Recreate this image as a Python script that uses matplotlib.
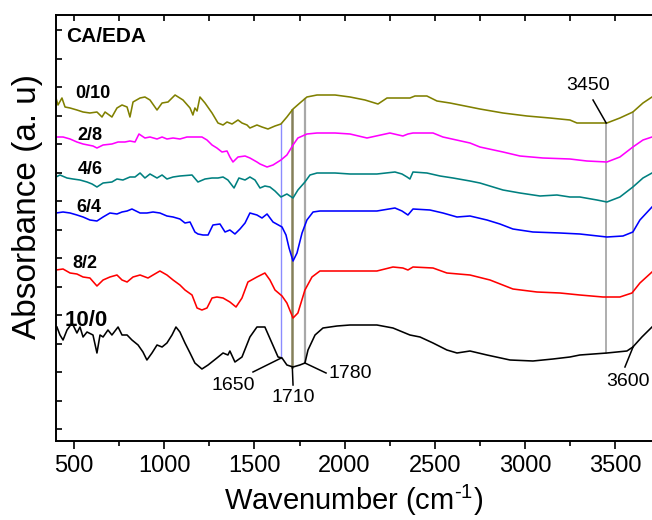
import numpy as np
import matplotlib

matplotlib.use("Agg")
import matplotlib.pyplot as plt
from matplotlib.ticker import MultipleLocator, FixedLocator

plt.rcParams["font.family"] = ["Liberation Sans", "DejaVu Sans"]
plt.rcParams["mathtext.fontset"] = "custom"
plt.rcParams["mathtext.rm"] = "Liberation Sans"

# FTIR spectra, stacked (arbitrary absorbance units)
wn_0_10 = [400, 411, 433, 450, 478, 516, 550, 588, 627, 655, 672, 710, 738, 766, 794, 810, 827,
           866, 893, 921, 960, 988, 1021, 1060, 1104, 1143, 1159, 1170, 1182, 1198, 1226, 1265,
           1298, 1326, 1348, 1376, 1409, 1431, 1459, 1475, 1514, 1542, 1575, 1614, 1647, 1680,
           1714, 1752, 1791, 1847, 1947, 2030, 2113, 2185, 2235, 2362, 2390, 2456, 2512, 2584,
           2695, 2750, 2878, 3011, 3138, 3249, 3288, 3377, 3454, 3526, 3598, 3654, 3704]
ab_0_10 = [3.43, 3.36, 3.43, 3.34, 3.33, 3.31, 3.29, 3.28, 3.29, 3.24, 3.29, 3.24, 3.33, 3.36,
           3.34, 3.24, 3.39, 3.43, 3.44, 3.41, 3.31, 3.38, 3.39, 3.46, 3.41, 3.33, 3.26, 3.33,
           3.30, 3.44, 3.38, 3.28, 3.18, 3.16, 3.19, 3.17, 3.21, 3.18, 3.16, 3.13, 3.16, 3.14,
           3.12, 3.15, 3.17, 3.24, 3.32, 3.38, 3.44, 3.46, 3.46, 3.44, 3.41, 3.37, 3.43, 3.43,
           3.45, 3.45, 3.40, 3.38, 3.34, 3.32, 3.28, 3.25, 3.23, 3.21, 3.18, 3.18, 3.18, 3.23,
           3.29, 3.38, 3.44]

wn_2_8 = [400, 439, 478, 516, 550, 605, 627, 661, 710, 744, 782, 810, 838, 860, 893, 921, 960,
          988, 1015, 1049, 1087, 1126, 1209, 1237, 1265, 1292, 1320, 1348, 1364, 1381, 1409,
          1448, 1475, 1514, 1531, 1570, 1603, 1647, 1680, 1714, 1741, 1791, 1847, 1947, 2030,
          2124, 2251, 2323, 2351, 2379, 2490, 2545, 2695, 2750, 2878, 2972, 3099, 3249, 3343,
          3454, 3526, 3598, 3654, 3704]
ab_2_8 = [3.04, 3.04, 3.02, 2.99, 2.97, 2.95, 2.93, 2.96, 2.97, 2.99, 2.99, 3.00, 2.99, 3.07,
          3.03, 3.04, 3.02, 3.04, 3.02, 3.03, 3.02, 3.04, 3.04, 3.01, 2.96, 2.93, 2.89, 2.90,
          2.84, 2.79, 2.84, 2.85, 2.83, 2.79, 2.77, 2.74, 2.76, 2.81, 2.86, 2.96, 3.03, 3.07,
          3.08, 3.08, 3.07, 3.03, 3.08, 3.05, 3.07, 3.08, 3.08, 3.04, 2.98, 2.94, 2.89, 2.85,
          2.83, 2.82, 2.80, 2.79, 2.84, 2.94, 3.01, 3.04]

wn_4_6 = [400, 422, 461, 494, 533, 572, 600, 627, 661, 710, 738, 771, 810, 838, 866, 893, 921,
          960, 988, 1015, 1049, 1087, 1154, 1187, 1226, 1265, 1298, 1326, 1353, 1387, 1414,
          1448, 1475, 1503, 1531, 1558, 1586, 1614, 1647, 1680, 1714, 1741, 1780, 1808, 1847,
          1947, 2030, 2179, 2279, 2318, 2346, 2362, 2379, 2456, 2529, 2601, 2695, 2750, 2878,
          2972, 3083, 3177, 3249, 3304, 3399, 3454, 3526, 3598, 3654, 3704]
ab_4_6 = [2.64, 2.66, 2.63, 2.62, 2.61, 2.59, 2.57, 2.54, 2.58, 2.59, 2.62, 2.61, 2.64, 2.64,
          2.68, 2.63, 2.67, 2.63, 2.66, 2.62, 2.64, 2.65, 2.66, 2.59, 2.62, 2.63, 2.63, 2.64,
          2.61, 2.53, 2.63, 2.61, 2.64, 2.61, 2.53, 2.55, 2.54, 2.50, 2.44, 2.47, 2.43, 2.51,
          2.59, 2.66, 2.68, 2.68, 2.67, 2.67, 2.69, 2.67, 2.64, 2.62, 2.69, 2.68, 2.65, 2.63,
          2.60, 2.58, 2.51, 2.48, 2.45, 2.46, 2.44, 2.44, 2.41, 2.39, 2.44, 2.54, 2.63, 2.68]

wn_6_4 = [400, 439, 478, 516, 550, 588, 627, 661, 699, 738, 766, 794, 821, 866, 904, 938, 976,
          1015, 1049, 1087, 1115, 1143, 1170, 1187, 1215, 1243, 1270, 1309, 1337, 1364, 1392,
          1420, 1448, 1475, 1514, 1542, 1570, 1603, 1653, 1675, 1692, 1714, 1736, 1764, 1791,
          1825, 1863, 1947, 2030, 2179, 2279, 2318, 2351, 2379, 2473, 2545, 2623, 2695, 2789,
          2861, 2933, 3044, 3194, 3304, 3454, 3543, 3598, 3637, 3704]
ab_6_4 = [2.28, 2.29, 2.28, 2.26, 2.24, 2.21, 2.20, 2.24, 2.28, 2.27, 2.29, 2.30, 2.32, 2.28,
          2.28, 2.29, 2.28, 2.25, 2.24, 2.22, 2.18, 2.19, 2.09, 2.07, 2.06, 2.06, 2.16, 2.17,
          2.09, 2.11, 2.07, 2.12, 2.18, 2.28, 2.26, 2.23, 2.27, 2.19, 2.14, 2.06, 1.93, 1.80,
          1.88, 2.08, 2.21, 2.29, 2.30, 2.30, 2.30, 2.30, 2.33, 2.30, 2.26, 2.32, 2.31, 2.28,
          2.24, 2.25, 2.21, 2.17, 2.12, 2.09, 2.08, 2.07, 2.04, 2.05, 2.09, 2.21, 2.34]

wn_8_2 = [400, 439, 478, 516, 550, 588, 627, 661, 699, 738, 766, 794, 827, 866, 910, 938, 976,
          1015, 1049, 1087, 1115, 1154, 1182, 1209, 1237, 1265, 1292, 1326, 1364, 1398, 1431,
          1464, 1514, 1558, 1586, 1614, 1653, 1680, 1714, 1741, 1780, 1819, 1863, 2030, 2179,
          2268, 2323, 2351, 2379, 2490, 2567, 2695, 2806, 2933, 3066, 3194, 3304, 3432, 3526,
          3593, 3637, 3704]
ab_8_2 = [1.71, 1.72, 1.68, 1.67, 1.64, 1.63, 1.55, 1.61, 1.64, 1.66, 1.61, 1.59, 1.64, 1.66,
          1.63, 1.66, 1.70, 1.66, 1.61, 1.56, 1.51, 1.46, 1.33, 1.31, 1.33, 1.43, 1.44, 1.43,
          1.39, 1.34, 1.43, 1.59, 1.64, 1.68, 1.61, 1.51, 1.45, 1.38, 1.23, 1.28, 1.51, 1.64,
          1.70, 1.70, 1.70, 1.74, 1.73, 1.71, 1.74, 1.73, 1.68, 1.66, 1.61, 1.52, 1.49, 1.48,
          1.46, 1.44, 1.44, 1.48, 1.58, 1.69]

wn_10_0 = [405, 422, 439, 461, 489, 516, 533, 550, 572, 605, 627, 644, 661, 688, 710, 744, 766,
           794, 821, 855, 882, 904, 932, 960, 988, 1015, 1043, 1065, 1087, 1115, 1143, 1170,
           1209, 1243, 1292, 1326, 1353, 1364, 1392, 1431, 1475, 1514, 1558, 1597, 1631, 1653,
           1680, 1714, 1752, 1780, 1797, 1836, 1880, 1958, 2030, 2179, 2268, 2362, 2418, 2490,
           2567, 2623, 2695, 2789, 2917, 3044, 3155, 3249, 3304, 3454, 3565, 3598, 3648, 3704]
ab_10_0 = [1.14, 1.06, 1.01, 1.11, 1.18, 1.08, 1.14, 1.04, 1.09, 1.06, 0.88, 1.06, 1.04, 1.11,
           1.06, 1.14, 1.06, 1.06, 1.01, 0.96, 0.89, 0.81, 0.88, 0.96, 0.94, 0.98, 1.06, 1.14,
           1.09, 0.98, 0.88, 0.78, 0.72, 0.76, 0.83, 0.88, 0.86, 0.90, 0.79, 0.84, 1.04, 1.14,
           1.14, 0.98, 0.84, 0.83, 0.76, 0.74, 0.76, 0.78, 0.91, 1.06, 1.13, 1.15, 1.16, 1.16,
           1.13, 1.06, 1.04, 0.98, 0.91, 0.88, 0.90, 0.86, 0.81, 0.80, 0.82, 0.84, 0.86, 0.88,
           0.90, 0.94, 1.04, 1.14]

ratios = ["0/10", "2/8", "4/6", "6/4", "8/2", "10/0"]
colors = ["#808000", "#ff00ff", "#008080", "#0000ff", "#ff0000", "#000000"]
spectra = [(wn_0_10, ab_0_10), (wn_2_8, ab_2_8), (wn_4_6, ab_4_6),
           (wn_6_4, ab_6_4), (wn_8_2, ab_8_2), (wn_10_0, ab_10_0)]

# label anchor (wavenumber, absorbance) for each ratio
label_wn = [605, 588, 588, 583, 561, 566]
label_ab = [3.48, 3.06, 2.71, 2.33, 1.78, 1.21]

band_wn = [1650, 1710, 1780, 3450, 3600]
band_colors = ["#8c8cff", "#85805a", "#a8a8a8", "#a8a8a8", "#a8a8a8"]
band_widths = [1.0, 1.8, 1.6, 1.3, 1.3]
# where each band label sits and where its leader starts
band_text_xy = [(1381, 0.56), (1714, 0.44), (2030, 0.68), (3349, 3.55), (3571, 0.59)]
band_leader_xy = [(1492, 0.69), (1714, 0.56), (1897, 0.68), (3377, 3.41), (3554, 0.74)]

fig = plt.figure(figsize=(6.52, 5.20), dpi=100)
ax = fig.add_axes([56 / 652, 79 / 520, 1 - 56 / 652, 426 / 520])

top_wn, top_ab = spectra[0]
bot_wn, bot_ab = spectra[-1]
for wn, col, lw in zip(band_wn, band_colors, band_widths):
    y_top = np.interp(wn, top_wn, top_ab)
    y_bot = np.interp(wn, bot_wn, bot_ab)
    ax.plot([wn, wn], [y_bot, y_top], color=col, lw=lw, zorder=1)

for (wn, ab), col in zip(spectra, colors):
    ax.plot(wn, ab, color=col, lw=1.15, zorder=2)

for name, x, y in zip(ratios, label_wn, label_ab):
    size = 16 if name == "10/0" else 13
    ax.text(x, y, name, fontsize=size, fontweight="bold", ha="center", va="center")

ax.text(455, 4.05, "CA/EDA", fontsize=15, fontweight="bold", ha="left", va="center")

for i, wn in enumerate(band_wn):
    curve_wn, curve_ab = spectra[0] if wn == 3450 else spectra[-1]
    y_curve = np.interp(wn, curve_wn, curve_ab)
    lx, ly = band_leader_xy[i]
    ax.plot([lx, wn], [ly, y_curve], color="black", lw=1.1, zorder=3)
    tx, ty = band_text_xy[i]
    ax.text(tx, ty, str(wn), fontsize=14, ha="center", va="center")

ax.set_xlim(400, 3704)
ax.set_ylim(0, 4.26)
ax.spines["right"].set_visible(False)
for side in ("left", "top", "bottom"):
    ax.spines[side].set_linewidth(1.4)

ax.xaxis.set_major_locator(MultipleLocator(500))
ax.xaxis.set_minor_locator(MultipleLocator(250))
ax.yaxis.set_major_locator(FixedLocator(np.arange(0.12, 4.26, 0.285)))
ax.set_yticklabels([])
ax.tick_params(axis="x", which="major", direction="out", length=6, width=1.2,
               labelsize=17, pad=4, top=True)
ax.tick_params(axis="x", which="minor", direction="out", length=3.5, width=1.2, top=True)
ax.tick_params(axis="y", which="major", direction="in", length=4, width=1.2, right=False)

# top ticks point inward
for tick in ax.xaxis.get_major_ticks() + ax.xaxis.get_minor_ticks():
    tick.tick2line.set_marker(3)
    tick.tick2line.set_markersize(4)

ax.set_xlabel(r"Wavenumber (cm$^{\text{-}1}$)", fontsize=21, labelpad=4)
ax.set_ylabel("Absorbance (a. u)", fontsize=24)
ax.yaxis.set_label_coords(-0.022, 0.55)

fig.savefig("out.png", dpi=100)
